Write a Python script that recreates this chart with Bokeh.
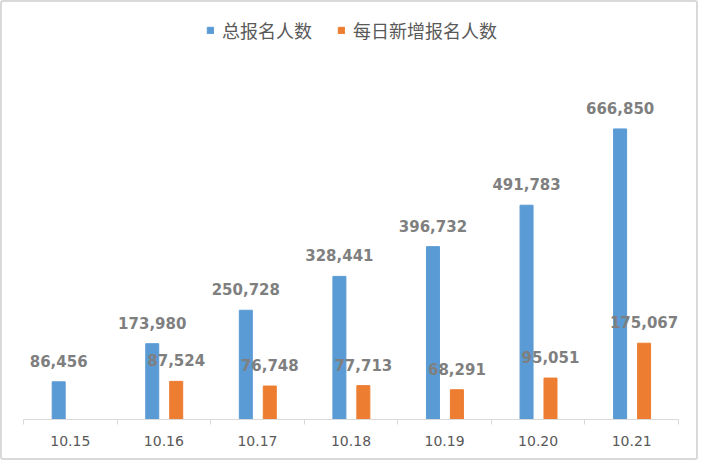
from bokeh.plotting import figure
from bokeh.models import ColumnDataSource, Range1d, FixedTicker, Legend, LegendItem
from bokeh.core.properties import value
from bokeh.embed import file_html
from bokeh.resources import INLINE

# ---- data ----
dates = ["10.15", "10.16", "10.17", "10.18", "10.19", "10.20", "10.21"]
total_signups = [86456, 173980, 250728, 328441, 396732, 491783, 666850]
daily_dates = ["10.16", "10.17", "10.18", "10.19", "10.20", "10.21"]
daily_new = [87524, 76748, 77713, 68291, 95051, 175067]
series_names = ["总报名人数", "每日新增报名人数"]

BLUE = "#5B9BD5"
ORANGE = "#ED7D31"
LABEL = "#7F7F7F"

idx = {d: i + 0.5 for i, d in enumerate(dates)}

src_total = ColumnDataSource(dict(
    x=[idx[d] - 0.124 for d in dates],
    y=total_signups,
    txt=[f"{v:,}" for v in total_signups],
))
src_daily = ColumnDataSource(dict(
    x=[idx[d] + 0.132 for d in daily_dates],
    y=daily_new,
    txt=[f"{v:,}" for v in daily_new],
))

p = figure(width=698, height=460, output_backend="svg", toolbar_location=None,
           x_range=Range1d(0, len(dates)), y_range=Range1d(0, 957000),
           min_border_left=21, min_border_right=22, min_border_top=0,
           min_border_bottom=43)
p.styles = {"border": "2px solid #d9d9d9", "border-radius": "3px"}
p.outline_line_color = None
p.background_fill_color = "white"
p.border_fill_color = "white"
p.grid.visible = False
p.yaxis.visible = False

bw = 0.139
r1 = p.vbar(x="x", top="y", width=bw, source=src_total, color=BLUE)
r2 = p.vbar(x="x", top="y", width=bw, source=src_daily, color=ORANGE)

for s in (src_total, src_daily):
    p.text(x="x", y="y", text="txt", source=s, text_align="center",
           text_baseline="alphabetic", y_offset=-21,
           text_font=value("DejaVu Sans"), text_font_style="bold",
           text_font_size="15px", text_color=LABEL)

xa = p.xaxis[0]
xa.ticker = FixedTicker(ticks=[idx[d] for d in dates],
                        minor_ticks=list(range(len(dates) + 1)))
xa.major_label_overrides = {idx[d]: d for d in dates}
xa.axis_line_color = "#D9D9D9"
xa.axis_line_width = 1
xa.major_tick_line_color = None
xa.major_tick_out = 0
xa.major_tick_in = 0
xa.minor_tick_line_color = "#D9D9D9"
xa.minor_tick_out = 5
xa.minor_tick_in = 0
xa.major_label_standoff = 11
xa.major_label_text_font = "DejaVu Sans"
xa.major_label_text_font_size = "14px"
xa.major_label_text_color = "#595959"

legend = Legend(items=[LegendItem(label=series_names[0], renderers=[r1]),
                       LegendItem(label=series_names[1], renderers=[r2])],
                orientation="horizontal", location=(183, 376),
                glyph_width=8, glyph_height=8, label_standoff=8, spacing=25,
                padding=0, margin=0, border_line_color=None,
                background_fill_alpha=0,
                label_text_font="Noto Sans CJK SC", label_text_font_size="18px",
                label_text_color="#595959")
p.add_layout(legend, "center")

open("out.html", "w").write(file_html(p, INLINE))
